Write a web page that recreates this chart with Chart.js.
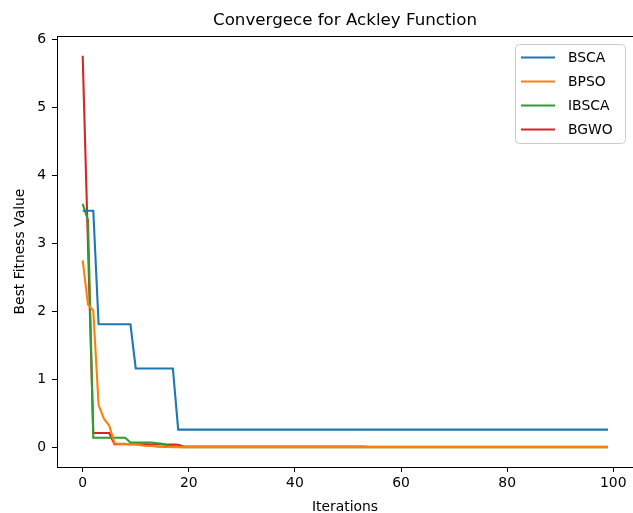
<!DOCTYPE html>
<html>
<head>
<meta charset="utf-8">
<script src="https://cdn.jsdelivr.net/npm/chart.js@4/dist/chart.umd.min.js"></script>
<style>
  html, body { margin: 0; padding: 0; background: #fff; }
  #wrap { width: 633px; height: 513px; position: relative; }
</style>
</head>
<body>
<div id="wrap"><canvas id="chart"></canvas></div>
<script>
// 迭代次数 0..99
const iterations = Array.from({ length: 100 }, (_, i) => i);

const seriesNames = ['BSCA', 'BPSO', 'IBSCA', 'BGWO'];
const seriesColors = ['#1f77b4', '#ff7f0e', '#2ca02c', '#d62728'];

const bsca = [
  3.48, 3.48, 3.48, 1.81, 1.81, 1.81, 1.81, 1.81, 1.81, 1.81,
  1.16, 1.16, 1.16, 1.16, 1.16, 1.16, 1.16, 1.16, 0.26, 0.26,
  0.26, 0.26, 0.26, 0.26, 0.26, 0.26, 0.26, 0.26, 0.26, 0.26,
  0.26, 0.26, 0.26, 0.26, 0.26, 0.26, 0.26, 0.26, 0.26, 0.26,
  0.26, 0.26, 0.26, 0.26, 0.26, 0.26, 0.26, 0.26, 0.26, 0.26,
  0.26, 0.26, 0.26, 0.26, 0.26, 0.26, 0.26, 0.26, 0.26, 0.26,
  0.26, 0.26, 0.26, 0.26, 0.26, 0.26, 0.26, 0.26, 0.26, 0.26,
  0.26, 0.26, 0.26, 0.26, 0.26, 0.26, 0.26, 0.26, 0.26, 0.26,
  0.26, 0.26, 0.26, 0.26, 0.26, 0.26, 0.26, 0.26, 0.26, 0.26,
  0.26, 0.26, 0.26, 0.26, 0.26, 0.26, 0.26, 0.26, 0.26, 0.26
];
const bpso = [
  2.75, 2.10, 2.01, 0.62, 0.42, 0.32, 0.06, 0.05, 0.05, 0.04,
  0.04, 0.03, 0.02, 0.02, 0.01, 0.005, 0.004, 0.003, 0.003, 0.003,
  0.003, 0.003, 0.003, 0.003, 0.003, 0.003, 0.003, 0.003, 0.003, 0.003,
  0.003, 0.003, 0.003, 0.003, 0.003, 0.003, 0.003, 0.003, 0.003, 0.003,
  0.003, 0.003, 0.003, 0.003, 0.003, 0.003, 0.003, 0.003, 0.003, 0.003,
  0.003, 0.003, 0.003, 0.003, 0.003, 0.003, 0.003, 0.003, 0.003, 0.003,
  0.003, 0.003, 0.003, 0.003, 0.003, 0.003, 0.003, 0.003, 0.003, 0.003,
  0.003, 0.003, 0.003, 0.003, 0.003, 0.003, 0.003, 0.003, 0.003, 0.003,
  0.003, 0.003, 0.003, 0.003, 0.003, 0.003, 0.003, 0.003, 0.003, 0.003,
  0.003, 0.003, 0.003, 0.003, 0.003, 0.003, 0.003, 0.003, 0.003, 0.003
];
const ibsca = [
  3.58, 3.34, 0.14, 0.14, 0.14, 0.14, 0.14, 0.14, 0.14, 0.07,
  0.07, 0.07, 0.07, 0.07, 0.06, 0.05, 0.03, 0.02, 0.004, 0.002,
  0.002, 0.002, 0.002, 0.002, 0.002, 0.002, 0.002, 0.002, 0.002, 0.002,
  0.002, 0.002, 0.002, 0.002, 0.002, 0.002, 0.002, 0.002, 0.002, 0.002,
  0.002, 0.002, 0.002, 0.002, 0.002, 0.002, 0.002, 0.002, 0.002, 0.002,
  0.002, 0.002, 0.002, 0.002, 0.002, 0.002, 0.002, 0.002, 0.002, 0.002,
  0.002, 0.002, 0.002, 0.002, 0.002, 0.002, 0.002, 0.002, 0.002, 0.002,
  0.002, 0.002, 0.002, 0.002, 0.002, 0.002, 0.002, 0.002, 0.002, 0.002,
  0.002, 0.002, 0.002, 0.002, 0.002, 0.002, 0.002, 0.002, 0.002, 0.002,
  0.002, 0.002, 0.002, 0.002, 0.002, 0.002, 0.002, 0.002, 0.002, 0.002
];
const bgwo = [
  5.76, 2.98, 0.21, 0.21, 0.21, 0.21, 0.045, 0.045, 0.045, 0.044,
  0.044, 0.043, 0.043, 0.042, 0.042, 0.041, 0.040, 0.039, 0.038, 0.012,
  0.012, 0.012, 0.012, 0.012, 0.012, 0.012, 0.012, 0.012, 0.012, 0.012,
  0.012, 0.012, 0.012, 0.012, 0.012, 0.012, 0.012, 0.012, 0.012, 0.012,
  0.012, 0.012, 0.012, 0.012, 0.012, 0.012, 0.012, 0.012, 0.012, 0.012,
  0.012, 0.012, 0.012, 0.012, 0.008, 0.008, 0.008, 0.008, 0.008, 0.008,
  0.008, 0.008, 0.008, 0.008, 0.008, 0.008, 0.008, 0.008, 0.008, 0.008,
  0.008, 0.008, 0.008, 0.008, 0.008, 0.008, 0.008, 0.008, 0.008, 0.008,
  0.008, 0.008, 0.008, 0.008, 0.008, 0.008, 0.008, 0.008, 0.008, 0.008,
  0.008, 0.008, 0.008, 0.008, 0.008, 0.008, 0.008, 0.008, 0.008, 0.008
];

const xTicks = [0, 20, 40, 60, 80, 100];
const yTicks = [0, 1, 2, 3, 4, 5, 6];

const FONT = 'DejaVu Sans';
const allSeries = [bsca, bpso, ibsca, bgwo];

const datasets = allSeries.map((vals, i) => ({
  label: seriesNames[i],
  data: vals.map((v, k) => ({ x: iterations[k], y: v })),
  borderColor: seriesColors[i],
  backgroundColor: seriesColors[i],
  borderWidth: 2.1,
  pointRadius: 0,
  tension: 0,
  fill: false
}));

// 四周边框（右边框落在画布外）
const framePlugin = {
  id: 'frame',
  afterDatasetsDraw(chart) {
    const { ctx, chartArea: a } = chart;
    ctx.save();
    ctx.strokeStyle = '#000';
    ctx.lineWidth = 1;
    ctx.strokeRect(Math.round(a.left) + 0.5, Math.round(a.top) + 0.5,
      Math.round(a.right - a.left) + 2, Math.round(a.bottom - a.top));
    ctx.restore();
  }
};

// 右上角图例框
const legendPlugin = {
  id: 'boxLegend',
  afterDraw(chart) {
    const { ctx } = chart;
    const x = 515.5, y = 44.5, w = 110, h = 99, r = 4;
    ctx.save();
    ctx.beginPath();
    ctx.roundRect(x, y, w, h, r);
    ctx.fillStyle = 'rgba(255,255,255,0.8)';
    ctx.fill();
    ctx.strokeStyle = '#cccccc';
    ctx.lineWidth = 1;
    ctx.stroke();
    ctx.font = '13.9px "' + FONT + '"';
    ctx.textBaseline = 'middle';
    ctx.textAlign = 'left';
    chart.data.datasets.forEach((ds, i) => {
      const yy = 57.5 + i * 24;
      ctx.beginPath();
      ctx.moveTo(521, yy);
      ctx.lineTo(555, yy);
      ctx.strokeStyle = ds.borderColor;
      ctx.lineWidth = 2.1;
      ctx.stroke();
      ctx.fillStyle = '#000';
      ctx.fillText(ds.label, 568, yy + 1);
    });
    ctx.restore();
  }
};

new Chart(document.getElementById('chart'), {
  type: 'line',
  data: { datasets },
  options: {
    responsive: true,
    maintainAspectRatio: false,
    animation: false,
    layout: { padding: { left: 0, right: 0, top: 0, bottom: 0 } },
    plugins: {
      legend: { display: false },
      tooltip: { enabled: false },
      title: {
        display: true,
        fullSize: false,
        text: 'Convergece for Ackley Function',
        color: '#000',
        font: { family: FONT, size: 16.7, weight: 'normal', lineHeight: 1.2 },
        padding: { top: 11, bottom: 5 }
      }
    },
    scales: {
      x: {
        type: 'linear',
        min: -4.84,
        max: 103.72,
        afterFit: s => { s.height = 46; },
        afterBuildTicks: s => { s.ticks = xTicks.map(v => ({ value: v })); },
        ticks: { color: '#000', font: { family: FONT, size: 13.9 }, padding: 3, maxRotation: 0 },
        grid: { drawOnChartArea: false, drawTicks: true, tickLength: 5, color: '#000', lineWidth: 1 },
        border: { display: false },
        title: {
          display: true, text: 'Iterations', color: '#000',
          font: { family: FONT, size: 13.9, lineHeight: 0.8 },
          padding: { top: 0, bottom: 0 }
        }
      },
      y: {
        type: 'linear',
        min: -0.29,
        max: 6.05,
        afterFit: s => { s.width = 57; },
        afterBuildTicks: s => { s.ticks = yTicks.map(v => ({ value: v })); },
        ticks: { color: '#000', font: { family: FONT, size: 13.9 }, padding: 6 },
        grid: { drawOnChartArea: false, drawTicks: true, tickLength: 5, color: '#000', lineWidth: 1 },
        border: { display: false },
        title: {
          display: true, text: 'Best Fitness Value', color: '#000',
          font: { family: FONT, size: 13.9, lineHeight: 1.2 },
          padding: { top: 12, bottom: 0 }
        }
      }
    }
  },
  plugins: [framePlugin, legendPlugin]
});
</script>
</body>
</html>
